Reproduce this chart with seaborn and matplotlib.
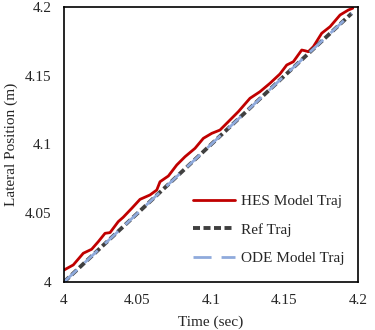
import numpy as np
import pandas as pd
import matplotlib
matplotlib.use("Agg")
import matplotlib.pyplot as plt
import seaborn as sns

sns.set_style("white")
plt.rcParams['font.family'] = ['Liberation Serif', 'DejaVu Serif']

# HES model trajectory
hes_t = [4.0000, 4.0063, 4.0131, 4.0188, 4.0233, 4.0279, 4.0313, 4.0369, 4.0403,
         4.0461, 4.0517, 4.0585, 4.0631, 4.0653, 4.0710, 4.0767, 4.0823, 4.0891,
         4.0948, 4.1005, 4.1061, 4.1118, 4.1186, 4.1265, 4.1333, 4.1401, 4.1469,
         4.1515, 4.1560, 4.1617, 4.1639, 4.1662, 4.1696, 4.1753, 4.1810, 4.1878,
         4.1934, 4.1964]
hes_y = [4.0087, 4.0124, 4.0209, 4.0238, 4.0293, 4.0354, 4.0359, 4.0439, 4.0471,
         4.0536, 4.0601, 4.0633, 4.0669, 4.0729, 4.0771, 4.0851, 4.0911, 4.0972,
         4.1045, 4.1081, 4.1105, 4.1166, 4.1239, 4.1336, 4.1384, 4.1445, 4.1513,
         4.1578, 4.1602, 4.1687, 4.1682, 4.1675, 4.1711, 4.1809, 4.1857, 4.1942,
         4.1978, 4.1991]

# reference and ODE trajectories
ref_t = [4.000, 4.050, 4.100, 4.150, 4.1957]
ref_y = [4.000, 4.050, 4.100, 4.150, 4.1954]
ode_t = [4.000, 4.050, 4.100, 4.150, 4.1957]
ode_y = [4.000, 4.050, 4.100, 4.150, 4.1954]

fig = plt.figure(figsize=(3.75, 3.3), dpi=100)
ax = fig.add_axes([0.1707, 0.1455, 0.784, 0.8333])

sns.lineplot(x=hes_t, y=hes_y, sort=False, color='#C00000', linewidth=2,
             label='HES Model Traj', ax=ax)
sns.lineplot(x=ref_t, y=ref_y, sort=False, color='#404040', linewidth=2.8,
             linestyle=(0, (1.8, 0.9)), label='Ref Traj', ax=ax)
sns.lineplot(x=ode_t, y=ode_y, sort=False, color='#8FAADC', linewidth=2,
             linestyle=(0, (6.5, 3.6)), label='ODE Model Traj', ax=ax)

ax.set_xlim(4, 4.2)
ax.set_ylim(4, 4.2)
ax.set_xticks([4, 4.05, 4.1, 4.15, 4.2])
ax.set_xticklabels(['4', '4.05', '4.1', '4.15', '4.2'])
ax.set_yticks([4, 4.05, 4.1, 4.15, 4.2])
ax.set_yticklabels(['4', '4.05', '4.1', '4.15', '4.2'])
ax.tick_params(length=0, labelsize=11, pad=9)
for s in ax.spines.values():
    s.set_color('black')
    s.set_linewidth(1.2)

ax.set_xlabel('Time (sec)', fontsize=11, labelpad=6)
ax.set_ylabel('Lateral Position (m)', fontsize=11, labelpad=5)

ax.legend(loc='lower right', frameon=False, fontsize=11, handlelength=2.7,
          handletextpad=0.4, labelspacing=0.95, bbox_to_anchor=(1.0, 0.012))

fig.savefig('out.png', dpi=100)
